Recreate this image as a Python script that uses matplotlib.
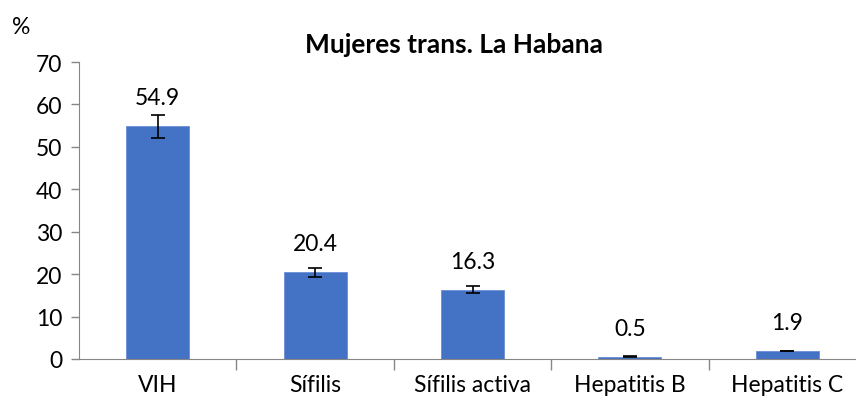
import matplotlib.pyplot as plt

categorias = ["VIH", "Sífilis", "Sífilis activa", "Hepatitis B", "Hepatitis C"]
valores = [54.9, 20.4, 16.3, 0.5, 1.9]
errores = [2.7, 1.0, 0.8, 0.1, 0.1]
yticks = [0, 10, 20, 30, 40, 50, 60, 70]

plt.rcParams["font.family"] = ["Lato", "DejaVu Sans"]
gris = "#868686"

fig = plt.figure(figsize=(8.56, 4.06), dpi=100)
ax = fig.add_axes([79 / 856, 46 / 406, 787 / 856, 297 / 406])

x = range(len(categorias))
ax.bar(x, valores, width=0.4, color="#4472C4", edgecolor="#6b8fd6", linewidth=0.6,
       yerr=errores, error_kw=dict(ecolor="black", elinewidth=1.2, capsize=5, capthick=1.2))

for xi, v in zip(x, valores):
    ax.annotate(f"{v}", (xi, v), xytext=(0, 13), textcoords="offset points",
                ha="center", va="bottom", fontsize=16.5)

ax.set_xlim(-0.5, len(categorias) - 0.5)
ax.set_ylim(0, 70)
ax.set_yticks(yticks)
ax.set_xticks(list(x))
ax.set_xticklabels(categorias, fontsize=16.5)
ax.set_xticks([i + 0.5 for i in range(len(categorias) - 1)], minor=True)
ax.tick_params(axis="x", which="major", length=0, pad=11)
ax.tick_params(axis="x", which="minor", length=8, color=gris, width=1)
ax.tick_params(axis="y", length=6, color=gris, width=1, labelsize=16.5, pad=6)

for s in ["top", "right"]:
    ax.spines[s].set_visible(False)
ax.spines["left"].set_color(gris)
ax.spines["bottom"].set_color(gris)

fig.text(454 / 856, 1 - 45 / 406, "Mujeres trans. La Habana", ha="center", va="center",
         fontsize=19, fontweight="bold")
fig.text(12 / 856, 1 - 28 / 406, "%", ha="left", va="center", fontsize=16.5)

fig.savefig("out.png", dpi=100)
